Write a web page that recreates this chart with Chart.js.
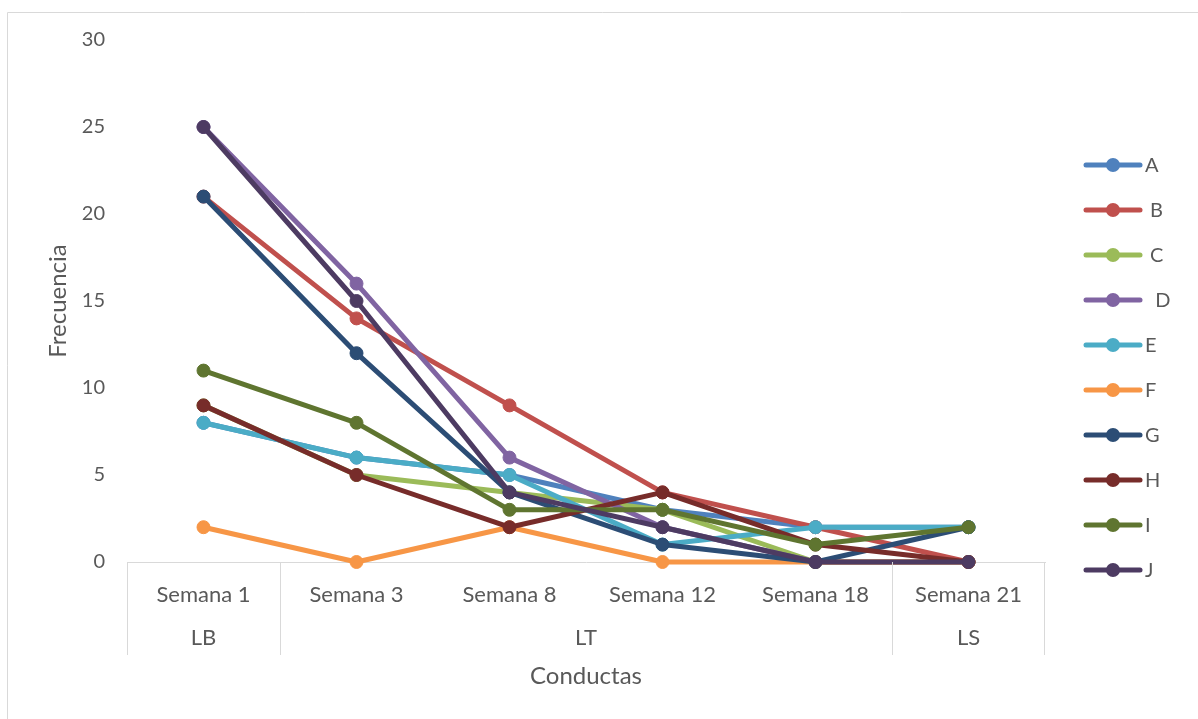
<!DOCTYPE html>
<html lang="es">
<head>
<meta charset="utf-8">
<title>Frecuencia de conductas por semana</title>
<script src="https://cdn.jsdelivr.net/npm/chart.js@4"></script>
<style>
  html, body { margin: 0; padding: 0; background: #ffffff; }
  #wrap { position: relative; width: 1198px; height: 719px; }
  canvas { display: block; }
</style>
</head>
<body>
<div id="wrap"><canvas id="chart" width="1198" height="719"></canvas></div>
<script>
// Categories (weeks) and the phase each week belongs to
const semanas = ['Semana 1', 'Semana 3', 'Semana 8', 'Semana 12', 'Semana 18', 'Semana 21'];
const fases = ['LB', 'LT', 'LT', 'LT', 'LT', 'LS'];

// Series labels and colours
const nombres = ['A', ' B', ' C', '  D', 'E', 'F', 'G', 'H', 'I', 'J'];
const colores = ['#4F81BD', '#C0504D', '#9BBB59', '#8064A2', '#4BACC6',
                 '#F79646', '#2C4D75', '#772C2A', '#5F7530', '#4D3B62'];

// Frequency of each behaviour per week
const serieA = [8, 6, 5, 3, 2, 2];
const serieB = [21, 14, 9, 4, 2, 0];
const serieC = [9, 5, 4, 3, 0, 0];
const serieD = [25, 16, 6, 2, 0, 0];
const serieE = [8, 6, 5, 1, 2, 2];
const serieF = [2, 0, 2, 0, 0, 0];
const serieG = [21, 12, 4, 1, 0, 2];
const serieH = [9, 5, 2, 4, 1, 0];
const serieI = [11, 8, 3, 3, 1, 2];
const serieJ = [25, 15, 4, 2, 0, 0];

// Y axis ticks
const yMin = 0, yMax = 30, yPaso = 5;

const series = [serieA, serieB, serieC, serieD, serieE, serieF, serieG, serieH, serieI, serieJ];

const FONT = 'Lato, "Open Sans", sans-serif';
const GRIS_TEXTO = '#595959';
const GRIS_LINEA = '#D9D9D9';

const datasets = series.map((valores, i) => ({
  label: nombres[i],
  data: valores,
  borderColor: colores[i],
  backgroundColor: colores[i],
  pointBackgroundColor: colores[i],
  pointBorderColor: colores[i],
  borderWidth: 5,
  pointRadius: 6.5,
  pointBorderWidth: 1,
  pointHoverRadius: 6.5,
  borderJoinStyle: 'round',
  borderCapStyle: 'round',
  tension: 0,
  clip: false,
  // later series are painted over earlier ones
  order: series.length - 1 - i
}));

// Outer frame, phase row under the weeks and the legend on the right
const decoracion = {
  id: 'decoracion',
  beforeDraw(chart) {
    const ctx = chart.ctx;
    ctx.save();
    ctx.strokeStyle = GRIS_LINEA;
    ctx.lineWidth = 1;
    ctx.beginPath();
    ctx.moveTo(7.5, chart.height);
    ctx.lineTo(7.5, 12.5);
    ctx.lineTo(chart.width, 12.5);
    ctx.stroke();
    ctx.restore();
  },
  afterDraw(chart) {
    const ctx = chart.ctx;
    const x = chart.scales.x;
    const area = chart.chartArea;
    const paso = x.getPixelForValue(1) - x.getPixelForValue(0);
    const yFin = 655;

    // group the weeks by phase
    const grupos = [];
    fases.forEach((f, i) => {
      const last = grupos[grupos.length - 1];
      if (last && last.nombre === f) last.fin = i;
      else grupos.push({ nombre: f, ini: i, fin: i });
    });

    ctx.save();
    ctx.strokeStyle = GRIS_LINEA;
    ctx.lineWidth = 1;
    ctx.beginPath();
    grupos.forEach((g, k) => {
      const xi = Math.round(x.getPixelForValue(g.ini) - paso / 2) + 0.5;
      ctx.moveTo(xi, area.bottom);
      ctx.lineTo(xi, yFin);
      if (k === grupos.length - 1) {
        const xf = Math.round(x.getPixelForValue(g.fin) + paso / 2) - 0.5;
        ctx.moveTo(xf, area.bottom);
        ctx.lineTo(xf, yFin);
      }
    });
    ctx.stroke();

    ctx.fillStyle = GRIS_TEXTO;
    ctx.font = '22px ' + FONT;
    ctx.textAlign = 'center';
    ctx.textBaseline = 'middle';
    grupos.forEach(g => {
      const cx = (x.getPixelForValue(g.ini) + x.getPixelForValue(g.fin)) / 2;
      ctx.fillText(g.nombre, cx, 638);
    });

    // legend: line with marker, then the label
    const lx0 = 1086, lx1 = 1140, tx = 1145, y0 = 165, dy = 45;
    ctx.font = '20px ' + FONT;
    chart.data.datasets.forEach((ds, i) => {
      const y = y0 + i * dy;
      ctx.strokeStyle = ds.borderColor;
      ctx.lineWidth = 5;
      ctx.lineCap = 'round';
      ctx.beginPath();
      ctx.moveTo(lx0, y);
      ctx.lineTo(lx1, y);
      ctx.stroke();
      ctx.fillStyle = ds.borderColor;
      ctx.beginPath();
      ctx.arc((lx0 + lx1) / 2, y, 7, 0, Math.PI * 2);
      ctx.fill();
      ctx.fillStyle = GRIS_TEXTO;
      ctx.textAlign = 'left';
      ctx.fillText(ds.label, tx, y + 1);
    });
    ctx.restore();
  }
};

new Chart(document.getElementById('chart'), {
  type: 'line',
  data: { labels: semanas, datasets },
  options: {
    responsive: false,
    animation: false,
    events: [],
    layout: { padding: { top: 40, right: 153, bottom: 0, left: 0 } },
    plugins: {
      legend: { display: false },
      tooltip: { enabled: false },
      title: { display: false }
    },
    scales: {
      x: {
        type: 'category',
        offset: true,
        grid: { display: false, drawTicks: false },
        border: { display: true, color: GRIS_LINEA, width: 1 },
        ticks: {
          color: GRIS_TEXTO,
          font: { family: FONT, size: 22 },
          padding: 20,
          maxRotation: 0,
          autoSkip: false
        },
        title: {
          display: true,
          text: 'Conductas',
          color: GRIS_TEXTO,
          font: { family: FONT, size: 24 },
          padding: { top: 0, bottom: 28 }
        },
        afterFit(scale) { scale.height = 157; }
      },
      y: {
        min: yMin,
        max: yMax,
        grid: { display: false, drawTicks: false },
        border: { display: false },
        ticks: {
          stepSize: yPaso,
          color: GRIS_TEXTO,
          font: { family: FONT, size: 20 },
          padding: 22
        },
        title: {
          display: true,
          text: 'Frecuencia',
          color: GRIS_TEXTO,
          font: { family: FONT, size: 24 },
          padding: { top: 44, bottom: 0 }
        },
        afterFit(scale) { scale.width = 127; }
      }
    }
  },
  plugins: [decoracion]
});
</script>
</body>
</html>
